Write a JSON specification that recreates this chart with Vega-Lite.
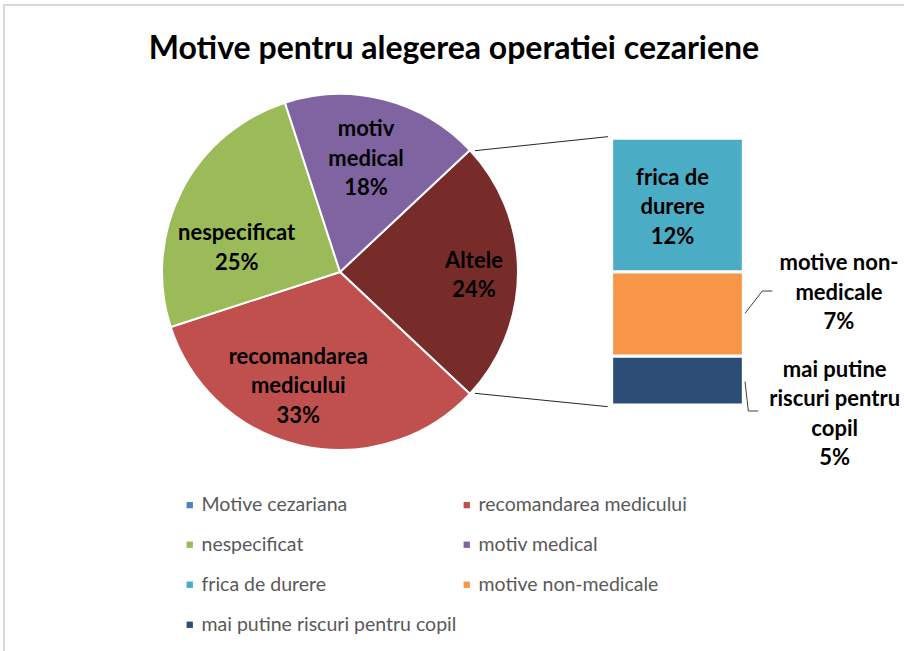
{
  "$schema": "https://vega.github.io/schema/vega-lite/v6.json",
  "width": 900,
  "height": 646,
  "autosize": {"type": "none"},
  "padding": {"left": 4, "top": 5, "right": 0, "bottom": 0},
  "background": "white",
  "config": {
    "view": {"stroke": "#d9d9d9", "strokeWidth": 2, "strokeDash": [900, 1546, 646]},
    "font": "Lato",
    "legend": {
      "orient": "none",
      "direction": "horizontal",
      "legendX": 176,
      "legendY": 490,
      "columns": 2,
      "symbolType": "square",
      "symbolSize": 40,
      "symbolStrokeWidth": 0,
      "labelFont": "Lato",
      "labelFontSize": 19.5,
      "labelColor": "#595959",
      "labelOffset": 2,
      "labelLimit": 400,
      "rowPadding": 19,
      "columnPadding": 0,
      "padding": 0,
      "title": null
    }
  },
  "title": {
    "text": "Motive pentru alegerea operatiei cezariene",
    "font": "Lato",
    "fontSize": 32,
    "fontWeight": "bold",
    "color": "#000000",
    "anchor": "middle",
    "baseline": "alphabetic",
    "offset": -86
  },
  "datasets": {
    "pie": [
      {"cat": "Altele", "value": 24, "ord": 0, "label": ["Altele", "24%"]},
      {"cat": "recomandarea medicului", "value": 33, "ord": 1, "label": ["recomandarea", "medicului", "33%"]},
      {"cat": "nespecificat", "value": 25, "ord": 2, "label": ["nespecificat", "25%"]},
      {"cat": "motiv medical", "value": 18, "ord": 3, "label": ["motiv", "medical", "18%"]}
    ],
    "bar": [
      {"cat": "mai putine riscuri pentru copil", "value": 4.4, "ord": 0, "label": ["mai putine", "riscuri pentru", "copil", "5%"]},
      {"cat": "motive non-medicale", "value": 7.6, "ord": 1, "label": ["motive non-", "medicale", "7%"]},
      {"cat": "frica de durere", "value": 12, "ord": 2, "label": ["frica de", "durere", "12%"]}
    ]
  },
  "layer": [
    {
      "data": {"name": "pie"},
      "mark": {"type": "arc", "outerRadius": 178, "stroke": "white", "strokeWidth": 2},
      "encoding": {
        "x": {"datum": 30.24, "type": "quantitative", "scale": {"domain": [0, 81], "nice": false, "zero": false}, "axis": null},
        "y": {"datum": 11.97, "type": "quantitative", "scale": {"domain": [-22.14, 36], "nice": false, "zero": false}, "axis": null},
        "theta": {"field": "value", "type": "quantitative", "stack": true, "scale": {"domain": [0, 100], "range": [0.8168, 7.0999]}},
        "order": {"field": "ord", "type": "quantitative"},
        "color": {
          "field": "cat", "type": "nominal",
          "scale": {
            "domain": ["Motive cezariana", "recomandarea medicului", "nespecificat", "motiv medical", "frica de durere", "motive non-medicale", "mai putine riscuri pentru copil", "Altele"],
            "range": ["#4F81BD", "#C0504D", "#9BBB59", "#8064A2", "#4BACC6", "#F79646", "#2C4D75", "#772C2A"]
          },
          "legend": {"values": ["Motive cezariana", "recomandarea medicului", "nespecificat", "motiv medical", "frica de durere", "motive non-medicale", "mai putine riscuri pentru copil"]}
        }
      }
    },
    {
      "data": {"name": "pie"},
      "mark": {"type": "text", "radius": 134, "dy": -11, "font": "Lato", "fontSize": 22, "fontWeight": "bold", "color": "#000000", "lineHeight": 29.5, "align": "center", "baseline": "middle"},
      "encoding": {
        "x": {"datum": 30.24, "type": "quantitative", "scale": {"domain": [0, 81], "nice": false, "zero": false}, "axis": null},
        "y": {"datum": 11.97, "type": "quantitative", "scale": {"domain": [-22.14, 36], "nice": false, "zero": false}, "axis": null},
        "theta": {"field": "value", "type": "quantitative", "stack": true, "scale": {"domain": [0, 100], "range": [0.8168, 7.0999]}},
        "order": {"field": "ord", "type": "quantitative"},
        "detail": {"field": "cat", "type": "nominal"},
        "text": {"condition": {"test": "datum.cat === 'Altele'", "field": "label", "type": "nominal"}, "value": ""}
      }
    },
    {
      "data": {"name": "pie"},
      "mark": {"type": "text", "radius": 118, "dx": -16, "dy": -30.5, "font": "Lato", "fontSize": 22, "fontWeight": "bold", "color": "#000000", "lineHeight": 29.5, "align": "center", "baseline": "middle"},
      "encoding": {
        "x": {"datum": 30.24, "type": "quantitative", "scale": {"domain": [0, 81], "nice": false, "zero": false}, "axis": null},
        "y": {"datum": 11.97, "type": "quantitative", "scale": {"domain": [-22.14, 36], "nice": false, "zero": false}, "axis": null},
        "theta": {"field": "value", "type": "quantitative", "stack": true, "scale": {"domain": [0, 100], "range": [0.8168, 7.0999]}},
        "order": {"field": "ord", "type": "quantitative"},
        "detail": {"field": "cat", "type": "nominal"},
        "text": {"condition": {"test": "datum.cat === 'recomandarea medicului'", "field": "label", "type": "nominal"}, "value": ""}
      }
    },
    {
      "data": {"name": "pie"},
      "mark": {"type": "text", "radius": 107, "dx": -8, "dy": 10, "font": "Lato", "fontSize": 22, "fontWeight": "bold", "color": "#000000", "lineHeight": 29.5, "align": "center", "baseline": "middle"},
      "encoding": {
        "x": {"datum": 30.24, "type": "quantitative", "scale": {"domain": [0, 81], "nice": false, "zero": false}, "axis": null},
        "y": {"datum": 11.97, "type": "quantitative", "scale": {"domain": [-22.14, 36], "nice": false, "zero": false}, "axis": null},
        "theta": {"field": "value", "type": "quantitative", "stack": true, "scale": {"domain": [0, 100], "range": [0.8168, 7.0999]}},
        "order": {"field": "ord", "type": "quantitative"},
        "detail": {"field": "cat", "type": "nominal"},
        "text": {"condition": {"test": "datum.cat === 'nespecificat'", "field": "label", "type": "nominal"}, "value": ""}
      }
    },
    {
      "data": {"name": "pie"},
      "mark": {"type": "text", "radius": 117, "dx": -3, "dy": -29.5, "font": "Lato", "fontSize": 22, "fontWeight": "bold", "color": "#000000", "lineHeight": 29.5, "align": "center", "baseline": "middle"},
      "encoding": {
        "x": {"datum": 30.24, "type": "quantitative", "scale": {"domain": [0, 81], "nice": false, "zero": false}, "axis": null},
        "y": {"datum": 11.97, "type": "quantitative", "scale": {"domain": [-22.14, 36], "nice": false, "zero": false}, "axis": null},
        "theta": {"field": "value", "type": "quantitative", "stack": true, "scale": {"domain": [0, 100], "range": [0.8168, 7.0999]}},
        "order": {"field": "ord", "type": "quantitative"},
        "detail": {"field": "cat", "type": "nominal"},
        "text": {"condition": {"test": "datum.cat === 'motiv medical'", "field": "label", "type": "nominal"}, "value": ""}
      }
    },
    {
      "data": {"name": "bar"},
      "transform": [{"stack": "value", "groupby": [], "sort": [{"field": "ord", "order": "ascending"}], "as": ["y0", "y1"]}],
      "mark": {"type": "rect", "stroke": "white", "strokeWidth": 3},
      "encoding": {
        "x": {"datum": 54.69, "type": "quantitative", "scale": {"domain": [0, 81], "nice": false, "zero": false}, "axis": null},
        "x2": {"datum": 66.54},
        "y": {"field": "y0", "type": "quantitative", "scale": {"domain": [-22.14, 36], "nice": false, "zero": false}, "axis": null},
        "y2": {"field": "y1"},
        "color": {
          "field": "cat", "type": "nominal",
          "legend": {"values": ["Motive cezariana", "recomandarea medicului", "nespecificat", "motiv medical", "frica de durere", "motive non-medicale", "mai putine riscuri pentru copil"]}
        }
      }
    },
    {
      "data": {"name": "bar"},
      "mark": {"type": "text", "dy": -27.5, "font": "Lato", "fontSize": 22, "fontWeight": "bold", "color": "#000000", "lineHeight": 29.5, "align": "center", "baseline": "middle"},
      "encoding": {
        "x": {"datum": 60.17, "type": "quantitative", "scale": {"domain": [0, 81], "nice": false, "zero": false}, "axis": null},
        "y": {"field": "value", "type": "quantitative", "stack": "zero", "bandPosition": 0.5, "scale": {"domain": [-22.14, 36], "nice": false, "zero": false}, "axis": null},
        "order": {"field": "ord", "type": "quantitative"},
        "detail": {"field": "cat", "type": "nominal"},
        "text": {"condition": {"test": "datum.cat === 'frica de durere'", "field": "label", "type": "nominal"}, "value": ""}
      }
    },
    {
      "data": {"name": "bar"},
      "mark": {"type": "text", "dy": -50.5, "font": "Lato", "fontSize": 22, "fontWeight": "bold", "color": "#000000", "lineHeight": 29.5, "align": "center", "baseline": "middle"},
      "encoding": {
        "x": {"datum": 75.15, "type": "quantitative", "scale": {"domain": [0, 81], "nice": false, "zero": false}, "axis": null},
        "y": {"field": "value", "type": "quantitative", "stack": "zero", "bandPosition": 0.5, "scale": {"domain": [-22.14, 36], "nice": false, "zero": false}, "axis": null},
        "order": {"field": "ord", "type": "quantitative"},
        "detail": {"field": "cat", "type": "nominal"},
        "text": {"condition": {"test": "datum.cat === 'motive non-medicale'", "field": "label", "type": "nominal"}, "value": ""}
      }
    },
    {
      "data": {"name": "bar"},
      "mark": {"type": "text", "dy": -11, "font": "Lato", "fontSize": 22, "fontWeight": "bold", "color": "#000000", "lineHeight": 29.5, "align": "center", "baseline": "middle"},
      "encoding": {
        "x": {"datum": 74.76, "type": "quantitative", "scale": {"domain": [0, 81], "nice": false, "zero": false}, "axis": null},
        "y": {"field": "value", "type": "quantitative", "stack": "zero", "bandPosition": 0.5, "scale": {"domain": [-22.14, 36], "nice": false, "zero": false}, "axis": null},
        "order": {"field": "ord", "type": "quantitative"},
        "detail": {"field": "cat", "type": "nominal"},
        "text": {"condition": {"test": "datum.cat === 'mai putine riscuri pentru copil'", "field": "label", "type": "nominal"}, "value": ""}
      }
    },
    {
      "data": {"values": [{}]},
      "mark": {"type": "rule", "color": "#262626", "strokeWidth": 1},
      "encoding": {
        "x": {"datum": 42.39, "type": "quantitative"},
        "y": {"datum": 22.89, "type": "quantitative"},
        "x2": {"datum": 54.36},
        "y2": {"datum": 24.15}
      }
    },
    {
      "data": {"values": [{}]},
      "mark": {"type": "rule", "color": "#262626", "strokeWidth": 1},
      "encoding": {
        "x": {"datum": 42.39, "type": "quantitative"},
        "y": {"datum": 1.05, "type": "quantitative"},
        "x2": {"datum": 54.33},
        "y2": {"datum": -0.15}
      }
    },
    {
      "data": {"values": [{}]},
      "mark": {"type": "rule", "color": "#404040", "strokeWidth": 1},
      "encoding": {
        "x": {"datum": 66.69, "type": "quantitative"},
        "y": {"datum": 8.25, "type": "quantitative"},
        "x2": {"datum": 68.25},
        "y2": {"datum": 10.26}
      }
    },
    {
      "data": {"values": [{}]},
      "mark": {"type": "rule", "color": "#404040", "strokeWidth": 1},
      "encoding": {
        "x": {"datum": 68.25, "type": "quantitative"},
        "y": {"datum": 10.26, "type": "quantitative"},
        "x2": {"datum": 69.15},
        "y2": {"datum": 10.26}
      }
    },
    {
      "data": {"values": [{}]},
      "mark": {"type": "rule", "color": "#404040", "strokeWidth": 1},
      "encoding": {
        "x": {"datum": 66.69, "type": "quantitative"},
        "y": {"datum": 2.10, "type": "quantitative"},
        "x2": {"datum": 66.99},
        "y2": {"datum": -0.54}
      }
    },
    {
      "data": {"values": [{}]},
      "mark": {"type": "rule", "color": "#404040", "strokeWidth": 1},
      "encoding": {
        "x": {"datum": 66.99, "type": "quantitative"},
        "y": {"datum": -0.54, "type": "quantitative"},
        "x2": {"datum": 67.89},
        "y2": {"datum": -0.54}
      }
    }
  ]
}
